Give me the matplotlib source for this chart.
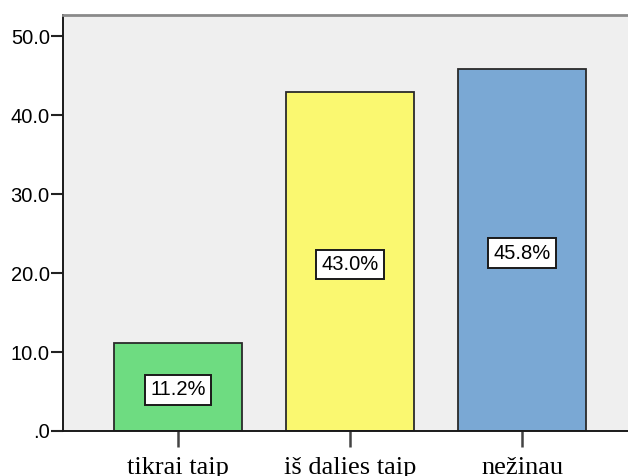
import matplotlib
matplotlib.use("Agg")
import matplotlib.pyplot as plt

categories = ["tikrai taip", "iš dalies taip", "nežinau"]
percentages = [11.2, 43.0, 45.8]
bar_colors = ["#6EDC81", "#FAF870", "#7AA8D4"]
y_ticks = [0, 10, 20, 30, 40, 50]
y_tick_labels = [".0", "10.0", "20.0", "30.0", "40.0", "50.0"]

fig = plt.figure(figsize=(6.28, 4.76), dpi=100)
ax = fig.add_axes([63 / 628, 45 / 476, 1 - 63 / 628, (431 - 15) / 476])
ax.set_facecolor("#EFEFEF")

x = list(range(len(categories)))
ax.bar(x, percentages, width=0.745, color=bar_colors,
       edgecolor="#2A2A2A", linewidth=1.3, zorder=2)

for xi, v in zip(x, percentages):
    ax.text(xi, v / 2 - 0.4, f"{v:.1f}%", ha="center", va="center",
            fontsize=14.5, family="Liberation Sans", color="black", zorder=3,
            bbox=dict(boxstyle="square,pad=0.27", facecolor="white",
                      edgecolor="#1A1A1A", linewidth=1.4))

ax.set_xlim(-0.669, 2.616)
ax.set_ylim(0, 52.7)

ax.set_yticks(y_ticks)
ax.set_yticklabels(y_tick_labels, family="Liberation Sans", fontsize=14.5)
ax.set_xticks(x)
ax.set_xticklabels(categories, family="Liberation Serif", fontsize=19)

ax.tick_params(axis="y", direction="out", length=9, width=1.5,
               color="#222222", pad=0.5)
ax.tick_params(axis="x", direction="out", length=11.5, width=1.8,
               color="#444444", pad=7.3)

ax.spines["right"].set_visible(False)
ax.spines["top"].set_color("#8A8A8A")
ax.spines["top"].set_linewidth(2)
ax.spines["left"].set_color("#1A1A1A")
ax.spines["left"].set_linewidth(1.4)
ax.spines["bottom"].set_color("#1A1A1A")
ax.spines["bottom"].set_linewidth(1.4)

fig.savefig("out.png", dpi=100)
